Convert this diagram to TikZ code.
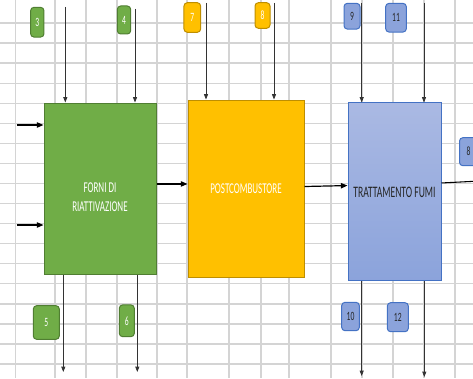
\documentclass[tikz,border=0pt]{standalone}
\usepackage{fontspec}
\setmainfont{Carlito}
\newfontfamily\xlfont[FakeStretch=0.6]{Carlito}
\usetikzlibrary{arrows.meta, positioning}
\definecolor{fornigreen}{RGB}{112,173,71}
\definecolor{fornidark}{RGB}{80,126,50}
\definecolor{postyellow}{RGB}{255,192,0}
\definecolor{postdark}{RGB}{190,142,0}
\definecolor{fumitop}{RGB}{170,185,227}
\definecolor{fumibot}{RGB}{139,163,219}
\definecolor{fumidark}{RGB}{68,114,196}
\definecolor{cellgrid}{RGB}{212,212,212}
\definecolor{inktext}{RGB}{38,38,38}

\begin{document}
\begin{tikzpicture}[x=0.75pt, y=-0.75pt,
    boxtext/.style={align=center, text=white, font=\xlfont\fontsize{11.25}{14.25}\selectfont},
    box/.style={rectangle, draw, line width=0.75pt, inner sep=0pt, boxtext},
    tag/.style={rectangle, rounded corners=2.5pt, draw, line width=0.75pt, inner sep=0pt,
                font=\xlfont\fontsize{9.5}{11}\selectfont},
    gtag/.style={tag, fill=fornigreen, draw=fornidark, text=white},
    ytag/.style={tag, fill=postyellow, draw=postdark, text=white},
    btag/.style={tag, fill=fumibot, draw=fumidark, text=inktext},
    flow/.style={line width=0.6pt, draw=black!80, -{Triangle[length=4pt, width=3pt]}},
    feed/.style={line width=0.9pt, -{Triangle[length=5pt, width=4pt]}}]

% Sheet
\clip (0,0) rectangle (473,378);
\fill[white] (0,0) rectangle (473,378);
\foreach \gx in {15.7,55,86,117,157,187,229,261,289,331,362,393,424,455}
  \draw[cellgrid, line width=1pt] (\gx,0) -- (\gx,378);
\foreach \k in {0,...,17}
  \draw[cellgrid, line width=1pt] (0,23+20.06*\k) -- (473,23+20.06*\k);

% Units
\node (forni) [box, fill=fornigreen, draw=fornidark, minimum width=84pt, minimum height=128.25pt,
    label={[boxtext, yshift=-6.75pt]center:{FORNI DI\\RIATTIVAZIONE}}] at (100,188.5) {};
\node (post) [box, fill=postyellow, draw=postdark, minimum width=87pt, minimum height=132.75pt,
    right=23.25pt of forni] {POSTCOMBUSTORE};
\node (fumi) [box, top color=fumitop, bottom color=fumibot, draw=fumidark, text=inktext,
    font=\xlfont\fontsize{12}{14}\selectfont, minimum width=69.75pt, minimum height=133.5pt,
    right=32.25pt of post, yshift=-2.6pt] {TRATTAMENTO FUMI};

% Free ends
\coordinate (in3)  at (65.3,7);
\coordinate (in4)  at (135,9);
\coordinate (in7)  at (206,3);
\coordinate (in8)  at (274,3);
\coordinate (in9)  at (361.7,3);
\coordinate (in11) at (424,3);
\coordinate (feedA) at (16.7,125);
\coordinate (feedB) at (16.7,225);
\coordinate (out5)  at (63.3,372);
\coordinate (out6)  at (137.3,372);
\coordinate (out10) at (361.7,376);
\coordinate (out12) at (424.3,377);
\coordinate (outFumi) at (480,181);

% Streams in
\draw [flow] (in3)  -- (in3 |- forni.north);
\draw [flow] (in4)  -- (in4 |- forni.north);
\draw [flow] (in7)  -- (in7 |- post.north);
\draw [flow] (in8)  -- (in8 |- post.north);
\draw [flow] (in9)  -- (in9 |- fumi.north);
\draw [flow] (in11) -- (in11 |- fumi.north);
\draw [feed] (feedA) -- (feedA -| forni.west);
\draw [feed] (feedB) -- (feedB -| forni.west);
% Between units
\draw [feed] ([yshift=3.4pt]forni.east) -- ([yshift=3.4pt]post.west);
\draw [feed] ([yshift=1.5pt]post.east) -- ([yshift=4.8pt]fumi.west);
\draw [feed, line width=0.8pt] ([yshift=6.75pt]fumi.east) -- (outFumi);
% Streams out
\draw [flow] (out5 |- forni.south)  -- (out5);
\draw [flow] (out6 |- forni.south)  -- (out6);
\draw [flow] (out10 |- fumi.south)  -- (out10);
\draw [flow] (out12 |- fumi.south)  -- (out12);

% Stream numbers
\node (t3)  [gtag, minimum width=10pt,    minimum height=22.3pt]  at (37.3,22.2)  {3};
\node (t4)  [gtag, minimum width=10pt,    minimum height=21pt]    at (124,20)     {4};
\node (t5)  [gtag, minimum width=19.5pt,  minimum height=25.2pt]  at (46.3,322.5) {5};
\node (t6)  [gtag, minimum width=11.25pt, minimum height=23.8pt]  at (126.8,320.8) {6};
\node (t7)  [ytag, minimum width=12.5pt,  minimum height=22.2pt]  at (192.3,17.5) {7};
\node (t8)  [ytag, minimum width=11.25pt, minimum height=19.2pt]  at (262.5,15.5) {8};
\node (t9)  [btag, minimum width=12pt,    minimum height=19.3pt]  at (352,16.2)   {9};
\node (t11) [btag, minimum width=15.5pt,  minimum height=21.5pt]  at (396,17.7)   {11};
\node (t8b) [btag, minimum width=13.5pt,  minimum height=21pt]    at (468.5,151.7) {8};
\node (t10) [btag, minimum width=13.2pt,  minimum height=21.3pt]  at (350.5,316.5) {10};
\node (t12) [btag, minimum width=15.75pt, minimum height=21.75pt] at (397.8,317.2) {12};
\end{tikzpicture}
\end{document}
